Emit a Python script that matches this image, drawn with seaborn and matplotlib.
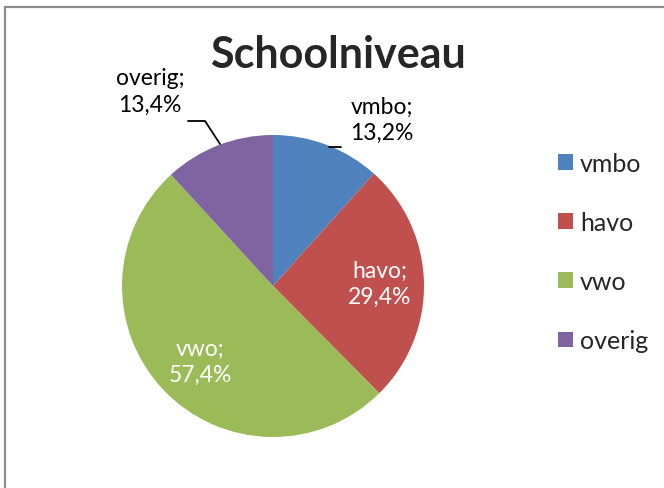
import numpy as np
import matplotlib
matplotlib.use("Agg")
import matplotlib.pyplot as plt
from matplotlib.patches import Rectangle
import seaborn as sns

categories = ["vmbo", "havo", "vwo", "overig"]
values = [13.2, 29.4, 57.4, 13.4]
pct_labels = ["13,2%", "29,4%", "57,4%", "13,4%"]
colors = ["#4F81BD", "#C0504D", "#9BBB59", "#8064A2"]

sns.set_style("white")
plt.rcParams["font.family"] = ["Lato", "DejaVu Sans"]

fig = plt.figure(figsize=(6.64, 4.89), dpi=100)
W, H = 664, 489

# pie centre and radius in pixels
cx, cy, r = 273, 287, 151
ax = fig.add_axes([(cx - r) / W, (H - cy - r) / H, 2 * r / W, 2 * r / H])

palette = sns.color_palette(colors)
wedges, _ = ax.pie(values, colors=palette, startangle=90, counterclock=False,
                   radius=1, wedgeprops=dict(linewidth=0))
ax.set_xlim(-1, 1)
ax.set_ylim(-1, 1)
ax.set_aspect("equal")
ax.axis("off")


def px(x, y):
    return (x - cx) / r, (cy - y) / r


# data labels
label_pos = {
    "vmbo": (382, 120, "black"),
    "havo": (380, 284, "white"),
    "vwo": (200, 362, "white"),
    "overig": (150, 92, "black"),
}
for cat, pct in zip(categories, pct_labels):
    x, y, c = label_pos[cat]
    ax.text(*px(x, y), f"{cat};\n{pct}", ha="center", va="center",
            fontsize=16.5, color=c, linespacing=1.3, clip_on=False)

# leader lines
lx, ly = zip(px(188, 122), px(205, 122), px(220, 145))
ax.plot(lx, ly, color="black", lw=1.3, clip_on=False)
lx, ly = zip(px(329, 148), px(341, 148))
ax.plot(lx, ly, color="black", lw=1.3, clip_on=False)

fig.text(338 / W, 1 - 55 / H, "Schoolniveau", ha="center", va="center",
         fontsize=31, fontweight="bold")

fig.legend(wedges, categories, loc="upper left",
           bbox_to_anchor=(535 / W, 1 - 130 / H), frameon=False,
           fontsize=18, labelspacing=1.45, handlelength=0.6,
           handleheight=0.6, handletextpad=0.3)

fig.patches.append(Rectangle((5 / W, -0.5), 2, 1.5 - 8 / H, transform=fig.transFigure,
                             fill=False, edgecolor="#8c8c8c", lw=1.6))

fig.savefig("out.png", dpi=100)
